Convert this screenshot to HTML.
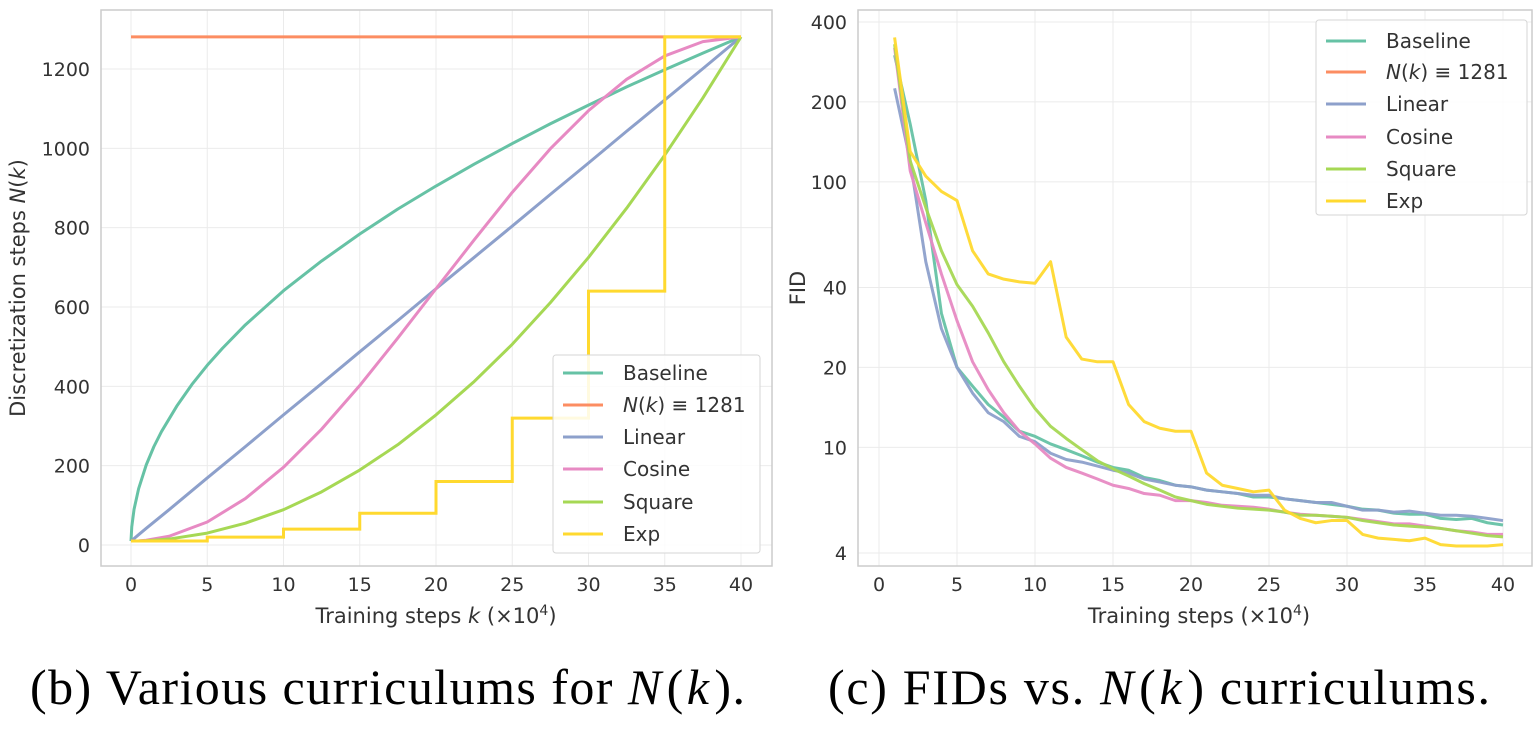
<!DOCTYPE html>
<html><head><meta charset="utf-8"><style>
body{margin:0;background:#fff;width:1539px;height:731px;overflow:hidden}
svg{display:block}
text{font-family:"DejaVu Sans","Liberation Sans",sans-serif;fill:#333}
.cap{font-family:"Liberation Serif",serif;font-size:50px;fill:#000}
</style></head><body>
<svg id="fig" width="1539" height="731" xmlns="http://www.w3.org/2000/svg">
<text class="cap" x="30" y="704" textLength="715" lengthAdjust="spacing">(b) Various curriculums for <tspan font-style="italic">N</tspan><tspan dx="4">(</tspan><tspan font-style="italic" dx="2">k</tspan><tspan dx="4">)</tspan>.</text>
<text class="cap" x="828" y="704" textLength="662" lengthAdjust="spacing">(c) FIDs vs. <tspan font-style="italic">N</tspan><tspan dx="4">(</tspan><tspan font-style="italic" dx="2">k</tspan><tspan dx="4">)</tspan> curriculums.</text>
</svg>
<script>
// ---- Left chart data ----
const kSteps = [0,0.1,0.5,1,2.5,5,7.5,10,12.5,15,17.5,20,22.5,25,27.5,30,32.5,35,37.5,40];
const baseK = [0,0.05,0.2,0.5,1,1.5,2,3,4,5,6,7.5,10,12.5,15,17.5,20,22.5,25,27.5,30,32.5,35,37.5,40];
const baselineN = [10,46,90,142,202,248,286,350,405,453,496,555,641,716,784,847,905,960,1012,1062,1109,1155,1198,1240,1281];
const constN = [1281,1281,1281,1281,1281,1281,1281,1281,1281,1281,1281,1281,1281,1281,1281,1281,1281,1281,1281,1281];
const linearN = [10,13,26,42,89,169,248,328,407,487,566,646,725,804,884,963,1043,1122,1201,1281];
const cosineN = [10,10,10.5,12,22,58,117,196,292,402,522,646,769,889,999,1095,1174,1233,1269,1281];
const squareN = [10,10,10.2,10.8,15,30,55,89,134,189,253,328,412,506,611,725,849,983,1127,1281];
const expStart = [0,5,10,15,20,25,30,35];
const expN = [10,20,40,80,160,320,640,1281];
const leftXTicks = [0,5,10,15,20,25,30,35,40];
const leftYTicks = [0,200,400,600,800,1000,1200];
// ---- Right chart data ----
const fidSteps = [1,2,3,4,5,6,7,8,9,10,11,12,13,14,15,16,17,18,19,20,21,22,23,24,25,26,27,28,29,30,31,32,33,34,35,36,37,38,39,40];
const fidBaseline = [300,165,85,32,20,17,14.5,13,11.5,11,10.3,9.8,9.3,8.8,8.4,8.2,7.7,7.5,7.2,7.1,6.9,6.8,6.7,6.5,6.5,6.4,6.3,6.2,6.1,6.0,5.85,5.8,5.65,5.6,5.6,5.4,5.35,5.4,5.2,5.1];
const fidLinear = [225,120,50,28,20,16,13.5,12.5,11,10.5,9.5,9,8.8,8.5,8.2,8,7.6,7.4,7.2,7.1,6.9,6.8,6.7,6.6,6.6,6.4,6.3,6.2,6.2,6.0,5.8,5.8,5.7,5.75,5.65,5.55,5.55,5.5,5.4,5.3];
const fidCosine = [320,110,70,45,30,21,16.5,13.5,11.5,10.3,9.1,8.4,8.0,7.6,7.2,7.0,6.7,6.6,6.3,6.3,6.2,6.05,6.0,5.95,5.85,5.7,5.6,5.55,5.5,5.45,5.35,5.25,5.15,5.15,5.05,4.95,4.85,4.8,4.7,4.7];
const fidSquare = [330,120,80,55,41,34,27,21,17,14,12,10.8,9.8,8.9,8.3,7.8,7.3,6.9,6.5,6.3,6.1,6.0,5.9,5.85,5.8,5.7,5.55,5.55,5.5,5.45,5.3,5.2,5.1,5.05,5.0,4.95,4.85,4.75,4.65,4.6];
const fidExp = [350,130,105,92,85,55,45,43,42,41.5,50,26,21.5,21,21,14.5,12.5,11.8,11.5,11.5,8,7.2,7,6.8,6.9,5.8,5.4,5.2,5.3,5.3,4.7,4.55,4.5,4.45,4.55,4.3,4.25,4.25,4.25,4.3];
const rightXTicks = [0,5,10,15,20,25,30,35,40];
const rightYTicks = [4,10,20,40,100,200,400];
const colors = ['#66c2a5','#fc8d62','#8da0cb','#e78ac3','#a6d854','#ffd92f'];
const names = ['Baseline','N(k) \u2261 1281','Linear','Cosine','Square','Exp'];

const NS='http://www.w3.org/2000/svg';
const svg=document.getElementById('fig');
function el(tag,attrs,parent){const e=document.createElementNS(NS,tag);for(const k in attrs)e.setAttribute(k,attrs[k]);(parent||svg).appendChild(e);return e;}

// ---------- Left ----------
const L={x0:101,x1:772,y0:10,y1:566};
const lx=v=>131+v*(741-131)/40;
const ly=v=>545-v*(545-69)/1200;
const gL=el('g',{});


leftXTicks.forEach(t=>{
  const g=el('line',{x1:lx(t),x2:lx(t),y1:L.y0,y2:L.y1,stroke:'#ebebeb','stroke-width':1},gL);
  
  
  const tx=el('text',{x:lx(t),y:591,'text-anchor':'middle','font-size':19},gL);tx.textContent=t;
  
  
});
leftYTicks.forEach(t=>{
  const g=el('line',{x1:L.x0,x2:L.x1,y1:ly(t),y2:ly(t),stroke:'#ebebeb','stroke-width':1},gL);
  
  
  const tx=el('text',{x:90,y:ly(t)+7,'text-anchor':'end','font-size':19},gL);tx.textContent=t;
  
  
});
const fl=el('rect',{x:L.x0,y:L.y0,width:L.x1-L.x0,height:L.y1-L.y0,fill:'none',stroke:'#cccccc','stroke-width':1.5},gL);


const leftSeries=[baselineN,constN,linearN,cosineN,squareN];
leftSeries.forEach((s,i)=>{
  const ks=i===0?baseK:kSteps;
  const p=el('polyline',{points:ks.map((k,j)=>lx(k)+','+ly(s[j])).join(' '),fill:'none',stroke:colors[i],'stroke-width':3,'stroke-linejoin':'round'},gL);
  
  
});
{let pts=[];expStart.forEach((k,j)=>{const kEnd=j<expStart.length-1?expStart[j+1]:40;pts.push(lx(k)+','+ly(expN[j]));pts.push(lx(kEnd)+','+ly(expN[j]));});
 const p=el('polyline',{points:pts.join(' '),fill:'none',stroke:colors[5],'stroke-width':3},gL);
 
 }
{const t=el('text',{x:436,y:623,'text-anchor':'middle','font-size':21},gL);
 t.innerHTML='Training steps <tspan font-style="italic">k</tspan> (\u00d710<tspan dy="-8" font-size="14">4</tspan><tspan dy="8">)</tspan>';
 
 
 const y=el('text',{x:0,y:0,'text-anchor':'middle','font-size':21,transform:'translate(25,288) rotate(-90)'},gL);
 y.innerHTML='Discretization steps <tspan font-style="italic">N</tspan>(<tspan font-style="italic">k</tspan>)';
 
 }
function legend(x,y,w,h,rowY,lineX,parent,nm){
  const g=el('g',{},parent);
  
  
  el('rect',{x:x,y:y,width:w,height:h,fill:'#fff','fill-opacity':0.85,stroke:'#d6d6d6',rx:3},g);
  names.forEach((n,i)=>{
    const e=el('g',{},g);
    
    
    el('line',{x1:lineX,x2:lineX+40,y1:rowY[i],y2:rowY[i],stroke:colors[i],'stroke-width':3},e);
    const t=el('text',{x:lineX+60,y:rowY[i]+7,'font-size':20},e);
    if(i===1)t.innerHTML='<tspan font-style="italic">N</tspan>(<tspan font-style="italic">k</tspan>) \u2261 1281';else t.textContent=n;
  });
}
legend(553,355,207,198,[373,405,437,469,502,534],563,gL,'legend-left');

// ---------- Right ----------
const R={x0:858,x1:1532,y0:10,y1:566};
const rx=v=>879+v*(1503-879)/40;
const ry=v=>553-(Math.log10(v)-Math.log10(4))*265.5;
const gR=el('g',{});


rightXTicks.forEach(t=>{
  const g=el('line',{x1:rx(t),x2:rx(t),y1:R.y0,y2:R.y1,stroke:'#ebebeb','stroke-width':1},gR);
  
  
  const tx=el('text',{x:rx(t),y:591,'text-anchor':'middle','font-size':19},gR);tx.textContent=t;
  
  
});
rightYTicks.forEach(t=>{
  const g=el('line',{x1:R.x0,x2:R.x1,y1:ry(t),y2:ry(t),stroke:'#ebebeb','stroke-width':1},gR);
  
  
  const tx=el('text',{x:847,y:ry(t)+7,'text-anchor':'end','font-size':19},gR);tx.textContent=t;
  
  
});
const fr=el('rect',{x:R.x0,y:R.y0,width:R.x1-R.x0,height:R.y1-R.y0,fill:'none',stroke:'#cccccc','stroke-width':1.5},gR);


const rightSeries=[fidBaseline,null,fidLinear,fidCosine,fidSquare,fidExp];
rightSeries.forEach((s,i)=>{
  if(!s)return;
  const p=el('polyline',{points:fidSteps.map((k,j)=>rx(k)+','+ry(s[j])).join(' '),fill:'none',stroke:colors[i],'stroke-width':3,'stroke-linejoin':'round','stroke-opacity':0.95},gR);
  
  
});
{const t=el('text',{x:1199,y:623,'text-anchor':'middle','font-size':21},gR);
 t.innerHTML='Training steps (\u00d710<tspan dy="-8" font-size="14">4</tspan><tspan dy="8">)</tspan>';
 
 
 const y=el('text',{x:0,y:0,'text-anchor':'middle','font-size':21,transform:'translate(805,288) rotate(-90)'},gR);
 y.textContent='FID';
 
 }
legend(1316,20,211,195,[41,72,104,137,169,201],1326,gR,'legend-right');
</script>
</body></html>
